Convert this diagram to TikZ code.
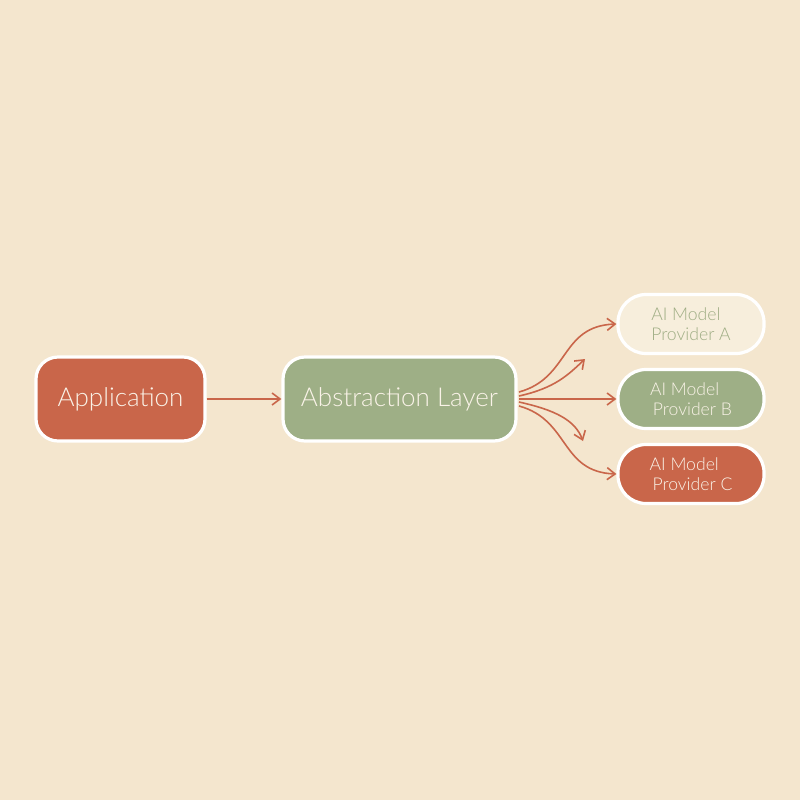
\documentclass[tikz,border=0pt]{standalone}
\usepackage{fontspec}
\setmainfont{Lato Light}
\usetikzlibrary{arrows.meta}
\definecolor{bg}{HTML}{F4E6CE}
\definecolor{rust}{HTML}{C9664A}
\definecolor{sage}{HTML}{9EAF86}
\definecolor{cream}{HTML}{F7EEDC}
\definecolor{txt}{HTML}{FAF3E8}
\definecolor{sagetxt}{HTML}{9FAD84}
\tikzset{
  box/.style={draw=white, line width=1.6pt, rounded corners=11pt, minimum height=42pt, text=txt, inner sep=0pt},
  pbox/.style={draw=white, line width=1.6pt, rounded corners=14pt, minimum width=73pt, minimum height=29.5pt, inner sep=0pt, align=left, font=\fontsize{8.8}{9.8}\selectfont},
  conn/.style={draw=rust, line width=0.8pt, -{Straight Barb[length=4pt,width=6pt]}},
}
\begin{document}
\begin{tikzpicture}[x=0.5pt,y=-0.5pt]
\fill[bg] (0,0) rectangle (800,800);
\useasboundingbox (0,0) rectangle (800,800);
\node[box, fill=rust, minimum width=84.5pt, font=\fontsize{13}{15}\selectfont] (app) at (120.5,399) {\raisebox{-1pt}{Application}};
\node[box, fill=sage, minimum width=116.5pt, font=\fontsize{13}{15}\selectfont] (abs) at (399.5,399) {\raisebox{-1pt}{Abstraction Layer}};
\node[pbox, fill=cream, text=sagetxt] (pa) at (691,324) {AI Model\\Provider A};
\node[pbox, fill=sage, text=txt] (pb) at (691,399) {AI Model\\\,Provider B};
\node[pbox, fill=rust, text=txt] (pc) at (691,474) {AI Model\\\,Provider C};
\coordinate (s1) at (519,392);
\coordinate (s2) at (519,396);
\coordinate (s3) at (519,399);
\coordinate (s4) at (519,402);
\coordinate (s5) at (519,406);
\coordinate (u1) at (585,359);
\coordinate (d1) at (583,441);
\draw[conn] (app) -- (abs);
\draw[conn] (s1) .. controls (570,378) and (560,326) .. (pa.west);
\draw[conn] (s2) .. controls (555,388) and (568,375) .. (u1);
\draw[conn] (s3) -- (pb.west);
\draw[conn] (s4) .. controls (555,410) and (575,420) .. (d1);
\draw[conn] (s5) .. controls (570,420) and (560,472) .. (pc.west);
\end{tikzpicture}
\end{document}
